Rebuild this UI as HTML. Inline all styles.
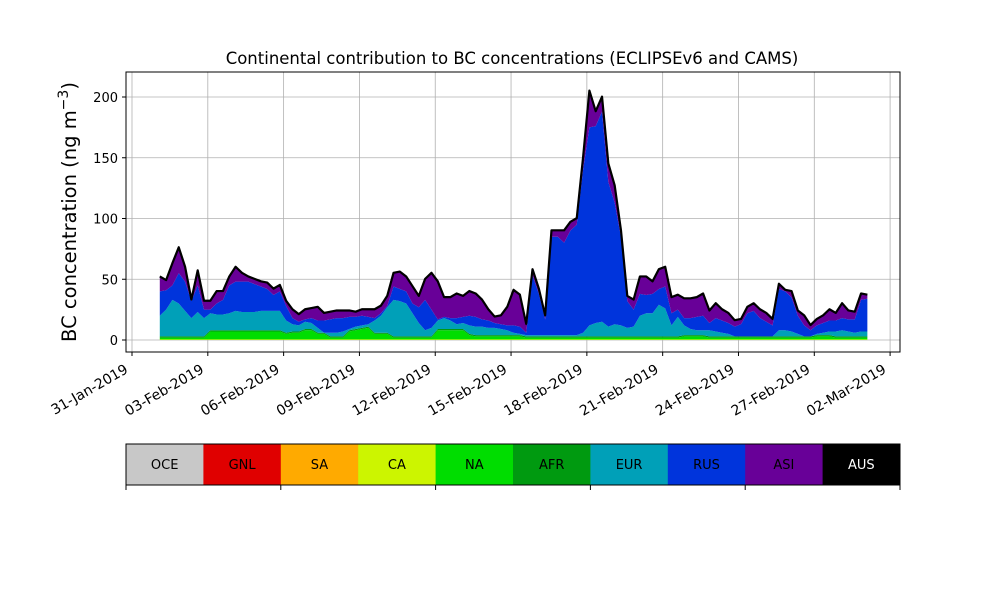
<!DOCTYPE html>
<html><head><meta charset="utf-8"><style>
body{margin:0;background:#fff;}
svg{display:block;font-family:"DejaVu Sans","Liberation Sans",sans-serif;}
</style></head><body>
<svg id="chart" width="1000" height="600" xmlns="http://www.w3.org/2000/svg"></svg>
<script>
// Days since 31-Jan-2019 for each sample
const startDay = 1.1;
const stepDay = 0.25;
const tickDays = [0,3,6,9,12,15,18,21,24,27,30];
const tickLabels = ["31-Jan-2019","03-Feb-2019","06-Feb-2019","09-Feb-2019","12-Feb-2019","15-Feb-2019","18-Feb-2019","21-Feb-2019","24-Feb-2019","27-Feb-2019","02-Mar-2019"];
const yTicks = [0,50,100,150,200];
const regions = ["OCE","GNL","SA","CA","NA","AFR","EUR","RUS","ASI","AUS"];
const regionColors = ["#c8c8c8","#e00000","#ffaa00","#ccf500","#00dd00","#009a10","#00a0b8","#0034dc","#680098","#000000"];
const seriesNA = [1.5,1.5,1.5,1.5,1.5,1.5,1.5,1.5,6.5,6.5,6.5,6.5,6.5,6.5,6.5,6.5,6.5,6.5,6.5,6.5,4.5,5.5,5.5,7.5,7.5,4.5,4.5,1.5,1.5,1.5,6.5,7.5,8.5,9.5,4.5,4.5,4.5,1.5,1.5,1.5,1.5,1.5,1.5,1.5,7.5,7.5,7.5,7.5,7.5,3.5,2.5,2.5,2.5,2.5,2.5,2.5,2.5,2.5,1.5,1.5,1.5,1.5,1.5,1.5,1.5,1.5,1.5,1.5,1.5,1.5,1.5,1.5,1.5,1.5,1.5,1.5,1.5,1.5,1.5,1.5,1.5,1.5,1.5,2.5,2.5,2.5,2.5,1.5,1.5,1.5,1.5,1.5,1.5,1.5,1.5,1.5,1.5,1.5,1.5,1.5,1.5,1.5,1.5,1.5,2.5,2.5,2.5,1.5,1.5,1.5,1.5,1.5,1.5];
const seriesEUR = [17,22,30,27,21,15,20,15,14,13,13,14,16,15,15,15,16,16,16,16,10,6,5,6,5,4,0,3,3,4,1,2,2,2,10,14,21,30,29,27,19,11,5,7,7,9,7,4,5,7,7,7,6,6,5,4,2,1,1,1,1,1,1,1,1,1,1,3,9,11,12,8,10,9,7,8,17,19,19,26,23,9,16,8,5,4,4,5,4,3,2,0,0,0,0,0,0,0,5,5,4,2,0,0,1,2,3,4,5,4,3,4,4];
const seriesRUS = [20,16,12,25,24,14,22,7,3,9,12,23,24,25,25,23,20,18,13,16,12,5,3,2,4,6,10,11,12,11,10,8,8,6,2,2,1,11,10,10,8,13,25,15,1,1,2,5,5,8,8,6,6,4,4,4,6,6,2,49,34,13,81,81,76,86,91,134,163,162,173,119,100,73,22,14,18,15,16,13,18,10,6,6,9,11,12,6,11,10,9,8,10,19,21,15,12,9,34,32,28,15,9,5,7,8,9,9,10,10,11,26,27];
const seriesASI = [12,8,18,21,12,1,12,7,7,10,7,7,12,7,4,4,4,5,5,5,4,7,6,8,8,11,6,6,6,6,5,4,5,6,7,6,8,11,14,12,14,9,17,30,31,16,17,20,17,20,19,16,9,5,7,15,29,26,7,5,4,3,5,5,10,7,5,10,30,12,12,15,14,5,4,8,14,15,10,16,16,13,12,16,16,16,18,10,12,9,8,5,4,5,6,7,7,5,4,1,5,4,8,4,5,6,9,6,12,7,6,5,3];
const seriesCA = 0.5, seriesAFR = 1.0, seriesAUS = 0.3;

const NS="http://www.w3.org/2000/svg";
const svg=document.getElementById('chart');
const X0=126,X1=900,Y0=72,Y1=352;
function xScale(d){return 132+d*25.27;}
function yScale(v){return 340-v*1.215;}
function el(tag,attrs,parent){const e=document.createElementNS(NS,tag);for(const k in attrs)e.setAttribute(k,attrs[k]);(parent||svg).appendChild(e);return e;}

// grid
const grid=el('g',{});


tickDays.forEach(d=>{const l=el('line',{x1:xScale(d),x2:xScale(d),y1:Y0,y2:Y1,stroke:'#b0b0b0','stroke-width':0.8},grid);

});
yTicks.forEach(v=>{const l=el('line',{x1:X0,x2:X1,y1:yScale(v),y2:yScale(v),stroke:'#b0b0b0','stroke-width':0.8},grid);

});

// stacked areas
const n=seriesNA.length;
const layers=[
 {name:'CA',vals:seriesNA.map(()=>seriesCA),color:regionColors[3]},
 {name:'NA',vals:seriesNA,color:regionColors[4]},
 {name:'AFR',vals:seriesNA.map(()=>seriesAFR),color:regionColors[5]},
 {name:'EUR',vals:seriesEUR,color:regionColors[6]},
 {name:'RUS',vals:seriesRUS,color:regionColors[7]},
 {name:'ASI',vals:seriesASI,color:regionColors[8]},
 {name:'AUS',vals:seriesNA.map(()=>seriesAUS),color:regionColors[9]}
];
let base=new Array(n).fill(0);
const areas=el('g',{});


layers.forEach(L=>{
 const top=base.map((b,i)=>b+L.vals[i]);
 let dStr='';
 for(let i=0;i<n;i++)dStr+=(i?'L':'M')+xScale(startDay+i*stepDay).toFixed(2)+','+yScale(top[i]).toFixed(2);
 for(let i=n-1;i>=0;i--)dStr+='L'+xScale(startDay+i*stepDay).toFixed(2)+','+yScale(base[i]).toFixed(2);
 const p=el('path',{d:dStr+'Z',fill:L.color,stroke:'none'},areas);
 
 
 base=top;
});
let tl='';
for(let i=0;i<n;i++)tl+=(i?'L':'M')+xScale(startDay+i*stepDay).toFixed(2)+','+yScale(base[i]).toFixed(2);
const totalLine=el('path',{d:tl,fill:'none',stroke:'#000','stroke-width':2.2,'stroke-linejoin':'round'});



// frame
const frame=el('rect',{x:X0,y:Y0,width:X1-X0,height:Y1-Y0,fill:'none',stroke:'#000','stroke-width':1});



// x ticks
tickDays.forEach((d,i)=>{
 const x=xScale(d);
 const t=el('line',{x1:x,x2:x,y1:Y1,y2:Y1+4,stroke:'#000'});
 
 
 const ax=x-3, ay=372;
 const tx=el('text',{x:ax,y:ay,'font-size':14,'text-anchor':'end',transform:`rotate(-30 ${ax} ${ay})`});
 tx.textContent=tickLabels[i];
 
 
});
yTicks.forEach(v=>{
 const y=yScale(v);
 const t=el('line',{x1:X0-4,x2:X0,y1:y,y2:y,stroke:'#000'});
 
 
 const tx=el('text',{x:X0-8,y:y+5,'font-size':13,'text-anchor':'end'});
 tx.textContent=v;
 
 
});

// title & y label
const title=el('text',{x:512,y:64,'font-size':16.5,'text-anchor':'middle'});
title.textContent='Continental contribution to BC concentrations (ECLIPSEv6 and CAMS)';


const yl=el('text',{x:76,y:212,'font-size':19.5,'text-anchor':'middle',transform:'rotate(-90 76 212)'});
yl.innerHTML='BC concentration (ng m<tspan dy="-8" font-size="14">−3</tspan><tspan dy="8">)</tspan>';



// colorbar legend
const leg=el('g',{});


const cw=(900-126)/regions.length;
regions.forEach((r,i)=>{
 const c=el('rect',{x:126+i*cw,y:444,width:cw+0.5,height:41,fill:regionColors[i]},leg);
 
 
 const t=el('text',{x:126+i*cw+cw/2,y:469,'font-size':13,'text-anchor':'middle',fill:r==='AUS'?'#fff':'#000'},leg);
 t.textContent=r;
 
 
});
el('rect',{x:126,y:444,width:774,height:41,fill:'none',stroke:'#000','stroke-width':1},leg);
[0,2,4,6,8,10].forEach(k=>{
 const t=el('line',{x1:126+k*cw,x2:126+k*cw,y1:485,y2:490,stroke:'#000'},leg);
 
 
});
</script>
</body></html>
